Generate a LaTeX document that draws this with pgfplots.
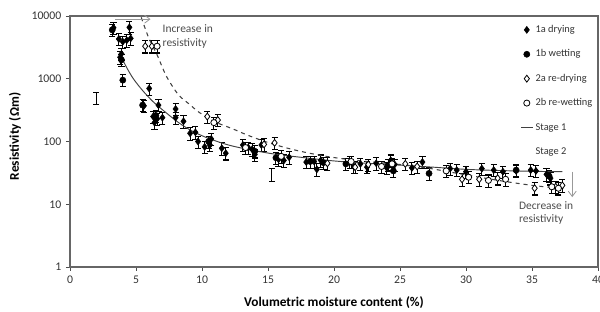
\documentclass[border=0pt]{standalone}
\usepackage{fontspec}
\setmainfont{Carlito}
\usepackage{pgfplots}
\pgfplotsset{compat=1.18}
\usetikzlibrary{arrows.meta}
\pgfplotsset{
  eb/.style={only marks, black,
    error bars/y dir=both, error bars/y fixed relative=0.22,
    error bars/error bar style={black, line width=0.8pt},
    error bars/error mark options={rotate=90, mark size=2.3pt, black, line width=0.8pt}},
}
\begin{document}
\begin{tikzpicture}
\begin{axis}[
  name=ax, at={(0,0)}, anchor=south west,
  scale only axis, width=396pt, height=188.25pt,
  xmin=0, xmax=40, ymin=1, ymax=10000, ymode=log,
  xtick={0,5,...,40},
  ytick={1,10,100,1000,10000}, yticklabels={1,10,100,1000,10000},
  yminorticks=false,
  tick align=outside, xtick pos=left, ytick pos=left, major tick length=3pt,
  tick style={black!70, line width=0.6pt},
  axis line style={black!60, line width=0.8pt},
  /pgf/number format/assume math mode=true,
  tick label style={font=\fontsize{8.8}{10}\selectfont, text=black!80},
  xlabel={\bfseries Volumetric moisture content (\%)},
  ylabel={\bfseries Resistivity (\symbol{"03A9}m)},
  label style={font=\fontsize{8.8}{10}\selectfont, text=black!85},
  every axis x label/.style={at={(axis description cs:0.5,0)}, anchor=center, yshift=-27pt},
  every axis y label/.style={at={(axis description cs:-0.104,0.52)}, rotate=90, anchor=center},
  legend style={at={(rel axis cs:0.853,0.975)}, anchor=north west, draw=none, fill=none,
    inner sep=0pt, row sep=7.3pt,
    font=\fontsize{7.8}{9}\selectfont, text=black!80,
    nodes={text height=5.5pt, text depth=1.5pt},
    /tikz/every odd column/.append style={column sep=0pt}},
  legend cell align=left,
  legend image code/.code={\draw[mark repeat=2,mark phase=2,#1] plot coordinates {(0cm,0cm)(0.15cm,0cm)(0.3cm,0cm)};},
]
% 1a drying
\addplot[eb, mark=diamond*, mark size=2.6pt] coordinates {
(3.3,6500)(4.5,6600)(3.7,4300)(4.0,3900)(4.3,4100)(4.6,4400)(3.8,2200)(3.9,2500)
(6.0,700)(5.6,370)(6.7,380)(6.3,250)(6.6,230)(7.0,240)(6.4,200)(8.0,330)(8.0,240)
(8.6,210)(9.1,135)(9.5,140)(9.7,100)(10.2,82)(10.7,110)(10.6,88)(11.5,78)(11.8,65)
(13.1,88)(13.5,80)(13.8,75)(14.0,62)(14.5,88)(15.8,52)(16.2,50)(16.6,56)(17.9,47)
(18.5,48)(18.7,36)(19.0,50)(21.2,47)(21.5,40)(22.0,44)(22.5,39)(23.2,45)(24.0,38)
(24.3,50)(24.6,43)(25.9,38)(26.7,47)(28.8,37)(29.3,35)(30.0,33)(31.2,37)(32.1,35)
(32.8,33)(33.8,34)(34.9,35)(35.3,34)(36.1,30)(36.4,26)};
\addlegendentry{1a drying}
% 1b wetting
\addplot[eb, mark=*, mark size=2.3pt] coordinates {
(4.0,950)(3.2,6000)(3.9,2000)(5.5,380)(6.5,260)(10.5,100)(14.0,70)(15.6,55)(18.2,48)
(19.2,46)(20.9,44)(24.1,42)(24.5,34)(27.2,31)(33.8,35)(36.3,28)};
\addlegendentry{1b wetting}
% 2a re-drying
\addplot[eb, mark=diamond*, mark size=2.6pt, mark options={fill=white, draw=black, line width=0.6pt}] coordinates {
(5.7,3300)(6.2,3300)(10.4,250)(11.2,220)(14.7,90)(15.5,95)(19.5,45)(21.6,39)(22.6,43)
(25.4,44)(26.3,40)(29.7,25)(31.0,25)(32.4,26)(35.2,18)(36.8,19)(37.3,20)};
\addlegendentry{2a re-drying}
% 2b re-wetting
\addplot[eb, mark=*, mark size=2.3pt, mark options={fill=white, draw=black, line width=0.6pt}] coordinates {
(6.6,3300)(10.9,200)(13.3,80)(16.0,58)(21.3,48)(23.6,40)(24.4,44)(28.5,34)(30.2,27)
(31.7,24)(33.0,25)(36.5,19)(37.0,18)};
\addlegendentry{2b re-wetting}
% Stage 1
\addplot[black!75, line width=0.7pt, smooth] coordinates {
(3.8,2400)(4.3,1500)(4.8,1000)(5.5,650)(6.3,430)(7.3,285)(8.3,195)(9.3,145)(10.5,112)
(12,88)(13.6,74)(15.5,63)(17.5,56)(20,49)(22.5,45)(25,42)(27.5,39)(30,36)(32.5,34.5)
(35,33.5)(37.3,33)};
\addlegendentry{Stage 1}
% Stage 2
\addplot[black!75, line width=0.8pt, dashed, smooth, legend image code/.code={}] coordinates {
(5.4,9500)(5.6,7200)(6.0,4300)(6.6,2400)(7.3,1100)(8.2,560)(9,400)(9.8,290)(11,205)
(12.3,160)(13.5,125)(14.9,98)(16.5,78)(18,66)(19.4,58)(21,52)(23,47)(25,43)(27,38)
(29,32)(31,27)(33,23)(35,20)(36.5,18.5)(37.4,18)};
\addlegendentry{Stage 2}
% error bars without markers
\addplot[eb, mark=*, mark size=0pt, mark options={draw=none, fill=none}, forget plot] coordinates {(2,500)(15.3,30)};
% annotations
\draw[-{Straight Barb[length=4pt,width=6pt]}, black!40, line width=0.6pt] (axis cs:3.4,8900) -- (axis cs:6.1,8900);
\node[anchor=north west, font=\fontsize{8.6}{10.2}\selectfont, text=black!70, align=left, inner sep=0pt] at (axis cs:7.0,7300) {Increase in\\resistivity};
\draw[-{Straight Barb[length=4pt,width=6pt]}, black!40, line width=0.6pt] (axis cs:38.05,33) -- (axis cs:38.05,13);
\node[anchor=north west, font=\fontsize{8.6}{10.2}\selectfont, text=black!70, align=left, inner sep=0pt] at (axis cs:34.0,11.2) {Decrease in\\resistivity};
\end{axis}
\pgfresetboundingbox
\path[use as bounding box] (-52.5pt,-33pt) rectangle (397.5pt,200.25pt);
\end{tikzpicture}
\end{document}
